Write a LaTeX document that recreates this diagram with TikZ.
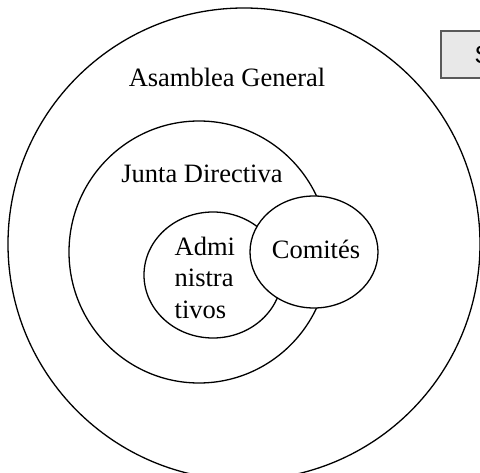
\documentclass[tikz,border=0pt]{standalone}
\usepackage{fontspec}
\setmainfont{Liberation Serif}
\newfontfamily\boxfont{Liberation Sans}
\begin{document}
\begin{tikzpicture}[x=1pt,y=-1pt,line width=1.3pt,
    lbl/.style={font=\fontsize{26.5}{31}\selectfont,inner sep=0pt},
    tagbox/.style={draw=black!65,fill=black!9,line width=1.2pt}]
			\useasboundingbox (0,0) rectangle (480,473);
			\clip (0,0) rectangle (480,473);
			\coordinate (A) at (244,244);
			\coordinate (J) at (199,252);
			\coordinate (D) at (213,275);
			\coordinate (C) at (314,252);
			\draw (A) ellipse (236 and 236);
			\draw (J) ellipse (130 and 131);
			\draw (D) ellipse (69 and 63);
			\draw[fill=white] (C) ellipse (64 and 56);
			\draw[tagbox] (441,31) rectangle (520,78);
			\node[lbl] (asamblea) at (227,77) {Asamblea General};
			\node[lbl] (junta) at (202,174) {Junta Directiva};
			\node[lbl] (comites) at (316,249) {Comités};
			\node[lbl,anchor=north west,align=left,font=\fontsize{26.5}{31.5}\selectfont] (admin) at (174,236) {Admi\\nistra\\tivos};
			\node[anchor=west,inner sep=0pt,font=\boxfont\fontsize{25}{30}\selectfont] (tag) at (474,55) {S};
		\end{tikzpicture}
\end{document}
